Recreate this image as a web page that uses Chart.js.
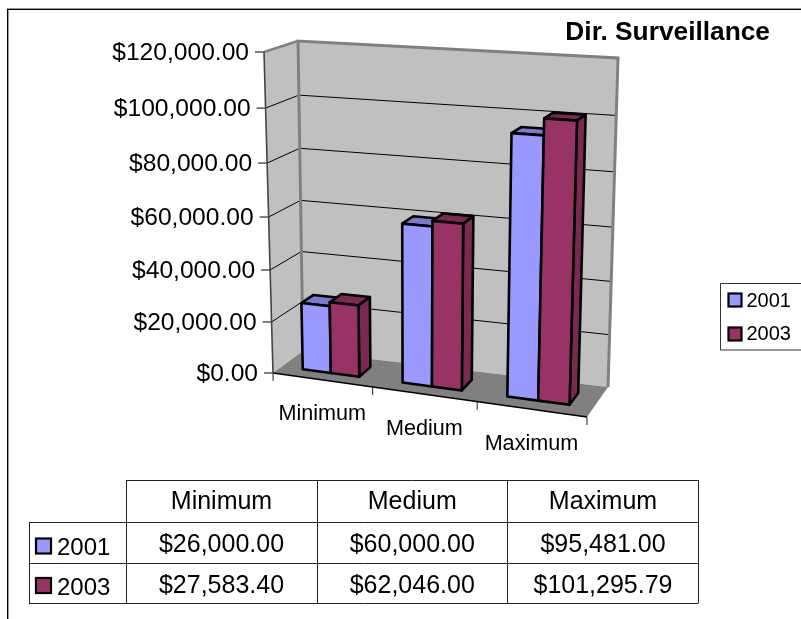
<!DOCTYPE html>
<html>
<head>
<meta charset="utf-8">
<style>html,body{margin:0;padding:0;background:#fff}canvas{display:block}</style>
<script src="https://cdn.jsdelivr.net/npm/chart.js@4"></script>
</head>
<body>
<canvas id="c" width="801" height="619"></canvas>
<script>
const titleText = 'Dir. Surveillance';
const categories = ['Minimum', 'Medium', 'Maximum'];
const seriesNames = ['2001', '2003'];
const values2001 = [26000.00, 60000.00, 95481.00];
const values2003 = [27583.40, 62046.00, 101295.79];
const axisMax = 120000;
const axisStep = 20000;

const FONT = '"Liberation Sans", Arial, sans-serif';
const COL = {
  wall: '#C0C0C0', floor: '#808080', edge: '#808080',
  s0: '#9999FF', s0top: '#7A7ACC', s0side: '#4D4D80',
  s1: '#993366', s1top: '#7A2952', s1side: '#4D1A33'
};
const money = v => '$' + v.toLocaleString('en-US', {minimumFractionDigits: 2, maximumFractionDigits: 2});

/* 3-D box of the plot: front/back, bottom/top, left/right corners */
const BOX = {
  fbl: [273, 373], fbr: [587, 417], ftl: [264, 52], ftr: [597.5, 70],
  bbl: [303, 351], bbr: [608, 387], btl: [298, 41], btr: [618, 58]
};
const KU = -0.07, KV = -0.055;
function project(u, v, d) {
  const s = u * (1 + KU) / (1 + KU * u);
  const t = v * (1 + KV) / (1 + KV * v);
  const mix = (a, b, k) => [a[0] + (b[0] - a[0]) * k, a[1] + (b[1] - a[1]) * k];
  const fb = mix(BOX.fbl, BOX.fbr, s), ft = mix(BOX.ftl, BOX.ftr, s);
  const bb = mix(BOX.bbl, BOX.bbr, s), bt = mix(BOX.btl, BOX.btr, s);
  return mix(mix(fb, ft, t), mix(bb, bt, t), d);
}
const poly = (ctx, pts, close = true) => {
  ctx.beginPath();
  pts.forEach((p, i) => i ? ctx.lineTo(p[0], p[1]) : ctx.moveTo(p[0], p[1]));
  if (close) ctx.closePath();
};

/* scales: real library scales; their labels follow the projected axis */
class PerspY extends Chart.LinearScale {
  static id = 'perspY';
  static defaults = Chart.LinearScale.defaults;
  _computeLabelItems(ca) {
    const items = super._computeLabelItems(ca);
    items.forEach((it, i) => {
      const v = this.ticks[i].value / axisMax;
      const p = project(0, v, 0);
      it.textOffset = 0;
      it.options.textAlign = 'right';
      it.options.textBaseline = 'middle';
      it.options.translation = [p[0] - 15, p[1] + 1.5];
    });
    return items;
  }
}
class PerspX extends Chart.CategoryScale {
  static id = 'perspX';
  static defaults = Chart.CategoryScale.defaults;
  _computeLabelItems(ca) {
    const items = super._computeLabelItems(ca);
    items.forEach((it, i) => {
      const p = project((i + 0.5) / categories.length, 0, 0);
      it.textOffset = 0;
      it.options.textAlign = 'center';
      it.options.textBaseline = 'middle';
      it.options.translation = [p[0], p[1] + 34.5];
    });
    return items;
  }
}
Chart.register(PerspY, PerspX);

/* bars come from the library's own elements; they are queued, then painted
   left to right after the datasets pass, projected into the 3-D box */
let area = null;
let barQueue = [];
const DEPTH_FRONT = 0.3, DEPTH_BACK = 0.7;
Chart.BarElement.prototype.draw = function () { barQueue.push(this); };
function paintBar(ctx, bar) {
  const W = area.right - area.left, H = area.bottom - area.top;
  const u0 = (bar.x - bar.width / 2 - area.left) / W;
  const u1 = (bar.x + bar.width / 2 - area.left) / W;
  const vTop = (area.bottom - bar.y) / H;
  const vBase = (area.bottom - bar.base) / H;
  const o = bar.options;
  const P = project;
  ctx.save();
  ctx.lineWidth = 2.6;
  ctx.strokeStyle = '#000';
  ctx.lineJoin = 'round';
  const faces = [
    [[P(u0, vTop, DEPTH_FRONT), P(u1, vTop, DEPTH_FRONT), P(u1, vTop, DEPTH_BACK), P(u0, vTop, DEPTH_BACK)], o.borderColor],
    [[P(u1, vBase, DEPTH_FRONT), P(u1, vTop, DEPTH_FRONT), P(u1, vTop, DEPTH_BACK), P(u1, vBase, DEPTH_BACK)], o.hoverBorderColor],
    [[P(u0, vBase, DEPTH_FRONT), P(u1, vBase, DEPTH_FRONT), P(u1, vTop, DEPTH_FRONT), P(u0, vTop, DEPTH_FRONT)], o.backgroundColor]
  ];
  faces.forEach(f => {
    poly(ctx, f[0]);
    ctx.fillStyle = f[1];
    ctx.fill();
    ctx.stroke();
  });
  ctx.restore();
}

const scene = {
  id: 'scene',
  beforeDraw(chart) {
    const ctx = chart.ctx;
    ctx.save();
    ctx.fillStyle = '#fff';
    ctx.fillRect(0, 0, 801, 619);
    ctx.fillStyle = '#999';
    ctx.fillRect(7, 8, 794, 1);
    ctx.fillStyle = '#000';
    ctx.fillRect(7, 9, 794, 1);
    ctx.fillRect(7, 9, 1.4, 610);
    ctx.restore();
  },
  beforeDatasetsDraw(chart) {
    area = chart.chartArea;
    barQueue = [];
    const ctx = chart.ctx, yS = chart.scales.y;
    const H = area.bottom - area.top;
    ctx.save();
    const P = project;
    // walls and floor
    poly(ctx, [P(0,0,1), P(1,0,1), P(1,1,1), P(0,1,1)]); ctx.fillStyle = COL.wall; ctx.fill();
    poly(ctx, [P(0,0,0), P(0,0,1), P(0,1,1), P(0,1,0)]); ctx.fill();
    poly(ctx, [P(0,0,0), P(1,0,0), P(1,0,1), P(0,0,1)]); ctx.fillStyle = COL.floor; ctx.fill();
    // grid lines
    ctx.strokeStyle = '#000';
    ctx.lineWidth = 1;
    yS.ticks.forEach(t => {
      const v = (area.bottom - yS.getPixelForValue(t.value)) / H;
      const a = P(0, v, 0);
      poly(ctx, [[a[0] - 9, a[1]], a], false); ctx.stroke();
      if (v > 0.001 && v < 0.999) {
        poly(ctx, [a, P(0, v, 1), P(1, v, 1)], false); ctx.stroke();
      }
    });
    // wall edges
    ctx.strokeStyle = COL.edge;
    ctx.lineWidth = 3;
    poly(ctx, [P(0,0,1), P(0,1,1), P(1,1,1), P(1,0,1)], false); ctx.stroke();
    ctx.lineWidth = 2.5;
    poly(ctx, [P(0,1,0), P(0,1,1)], false); ctx.stroke();
    // front axis lines and category ticks
    ctx.strokeStyle = '#444';
    ctx.lineWidth = 1.6;
    const a0 = P(0,1,0), a1 = P(0,0,0);
    poly(ctx, [a0, a1], false); ctx.stroke();
    ctx.strokeStyle = '#777';
    poly(ctx, [a1, [a1[0] + 0.2, a1[1] + 8]], false); ctx.stroke();
    ctx.strokeStyle = '#000';
    ctx.lineWidth = 1.4;
    poly(ctx, [a1, P(1,0,0)], false); ctx.stroke();
    ctx.lineWidth = 1;
    ctx.strokeStyle = '#222';
    for (let i = 1; i <= categories.length; i++) {
      const p = P(i / categories.length, 0, 0);
      poly(ctx, [p, [p[0], p[1] + 8]], false); ctx.stroke();
    }
    ctx.restore();
  },
  afterDatasetsDraw(chart) {
    barQueue.slice().sort((a, b) => a.x - b.x).forEach(b => paintBar(chart.ctx, b));
  },
  afterDraw(chart) {
    const ctx = chart.ctx;
    ctx.save();
    ctx.fillStyle = '#000';
    ctx.textBaseline = 'middle';
    // title
    ctx.font = 'bold 26.3px ' + FONT;
    ctx.textAlign = 'right';
    ctx.fillText(titleText, 770, 33);
    // legend
    ctx.strokeStyle = '#333';
    ctx.lineWidth = 1;
    ctx.beginPath();
    ctx.moveTo(801, 283.5); ctx.lineTo(720.5, 283.5); ctx.lineTo(720.5, 350); ctx.lineTo(801, 350);
    ctx.stroke();
    ctx.textAlign = 'left';
    ctx.font = '20px ' + FONT;
    const swatch = (x, y, s, c) => {
      ctx.fillStyle = c;
      ctx.strokeStyle = '#000';
      ctx.lineWidth = 2.2;
      ctx.fillRect(x, y, s, s);
      ctx.strokeRect(x, y, s, s);
      ctx.fillStyle = '#000';
    };
    swatch(728.5, 293.5, 13, COL.s0);
    ctx.fillText(seriesNames[0], 746.5, 301);
    swatch(728.5, 327.5, 13, COL.s1);
    ctx.fillText(seriesNames[1], 746.5, 334.5);
    // data table
    const xs = [29, 126, 317, 507.5, 698.5], ys = [480, 522, 563, 603];
    ctx.strokeStyle = '#222';
    ctx.lineWidth = 1;
    const ln = (x1, y1, x2, y2) => { ctx.beginPath(); ctx.moveTo(x1, y1); ctx.lineTo(x2, y2); ctx.stroke(); };
    ln(xs[1], ys[0] + .5, xs[4], ys[0] + .5);
    for (let r = 1; r < 4; r++) ln(xs[0], ys[r] + .5, xs[4], ys[r] + .5);
    ln(xs[0] + .5, ys[1], xs[0] + .5, ys[3]);
    for (let c = 1; c < 5; c++) ln(Math.floor(xs[c]) + .5, ys[0], Math.floor(xs[c]) + .5, ys[3]);
    ctx.font = '25px ' + FONT;
    ctx.textAlign = 'center';
    ctx.fillStyle = '#000';
    const rows = [values2001, values2003], rowY = [545, 586];
    categories.forEach((cat, i) => {
      const cx = (xs[i + 1] + xs[i + 2]) / 2;
      ctx.fillText(cat, cx, 502);
      rows.forEach((vals, r) => ctx.fillText(money(vals[i]), cx, rowY[r]));
    });
    ctx.textAlign = 'left';
    swatch(36, 538.5, 15, COL.s0);
    swatch(36, 578, 15, COL.s1);
    ctx.font = '24px ' + FONT;
    ctx.fillText(seriesNames[0], 57, 548);
    ctx.fillText(seriesNames[1], 57, 588);
    ctx.restore();
  }
};

new Chart(document.getElementById('c'), {
  type: 'bar',
  data: {
    labels: categories,
    datasets: [
      { label: seriesNames[0], data: values2001, backgroundColor: COL.s0, borderColor: COL.s0top, hoverBorderColor: COL.s0side },
      { label: seriesNames[1], data: values2003, backgroundColor: COL.s1, borderColor: COL.s1top, hoverBorderColor: COL.s1side }
    ]
  },
  plugins: [scene],
  options: {
    responsive: false,
    animation: false,
    events: [],
    layout: { padding: { top: 52, right: 214, left: 0, bottom: 0 } },
    categoryPercentage: 2 / 3.5,
    barPercentage: 1,
    plugins: { legend: { display: false }, title: { display: false }, tooltip: { enabled: false } },
    scales: {
      x: {
        type: 'perspX', offset: true,
        grid: { display: false }, border: { display: false },
        ticks: { autoSkip: false, maxRotation: 0, color: '#000', font: { family: FONT, size: 21.6 } },
        afterFit(s) { s.height = 246; }
      },
      y: {
        type: 'perspY', min: 0, max: axisMax,
        grid: { display: false }, border: { display: false },
        ticks: { stepSize: axisStep, color: '#000', font: { family: FONT, size: 24.6 }, callback: v => money(v) },
        afterFit(s) { s.width = 273; }
      }
    }
  }
});
</script>
</body>
</html>
